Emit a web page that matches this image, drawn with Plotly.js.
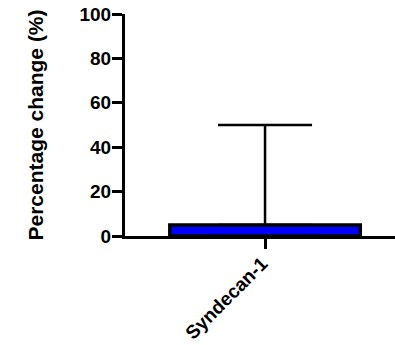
<!DOCTYPE html>
<html>
<head>
<meta charset="utf-8">
<script src="https://cdn.plot.ly/plotly-3.0.1.min.js"></script>
<style>
html,body{margin:0;padding:0;background:#fff;}
#chart{width:395px;height:345px;}
</style>
</head>
<body>
<div id="chart"></div>
<script>
const categories = ["Syndecan-1"];
const meanValues = [5];
const errorUpper = [45];
const errorLower = [0];
const yTickValues = [0, 20, 40, 60, 80, 100];

const trace = {
  type: "bar",
  x: categories,
  y: meanValues,
  width: 0.68,
  marker: {color: "#0000ff", line: {color: "#000000", width: 3.5}},
  error_y: {
    type: "data",
    symmetric: false,
    array: errorUpper,
    arrayminus: errorLower,
    color: "#000000",
    thickness: 2.5,
    width: 47
  },
  hoverinfo: "skip"
};

const FONT = "Liberation Sans, Arial, sans-serif";

const layout = {
  width: 395,
  height: 345,
  margin: {l: 125, r: 0, t: 14, b: 109, pad: 0},
  paper_bgcolor: "#ffffff",
  plot_bgcolor: "#ffffff",
  showlegend: false,
  font: {family: FONT, color: "#000000"},
  xaxis: {
    type: "category",
    range: [-0.5, 0.464],
    tickvals: categories,
    ticktext: categories.map(c => "<b>" + c + "</b>"),
    showline: true,
    linecolor: "#000000",
    linewidth: 3,
    ticks: "outside",
    ticklen: 10,
    tickwidth: 3,
    tickcolor: "#000000",
    tickangle: -45,
    ticklabelstandoff: -4,
    ticklabelshift: -3,
    tickfont: {size: 19, family: FONT, color: "#000000"},
    showgrid: false,
    zeroline: false,
    fixedrange: true
  },
  yaxis: {
    range: [0, 100],
    tickvals: yTickValues,
    ticktext: yTickValues.map(v => "<b>" + v + "</b>"),
    showline: true,
    linecolor: "#000000",
    linewidth: 3,
    ticks: "outside",
    ticklen: 10,
    tickwidth: 3,
    tickcolor: "#000000",
    ticklabelstandoff: -3,
    tickfont: {size: 19, family: FONT, color: "#000000"},
    showgrid: false,
    zeroline: false,
    title: {
      text: "<b>Percentage change (%)</b>",
      font: {size: 21, family: FONT, color: "#000000"},
      standoff: 31
    },
    fixedrange: true
  }
};

Plotly.newPlot("chart", [trace], layout, {displayModeBar: false, staticPlot: true});
</script>
</body>
</html>
